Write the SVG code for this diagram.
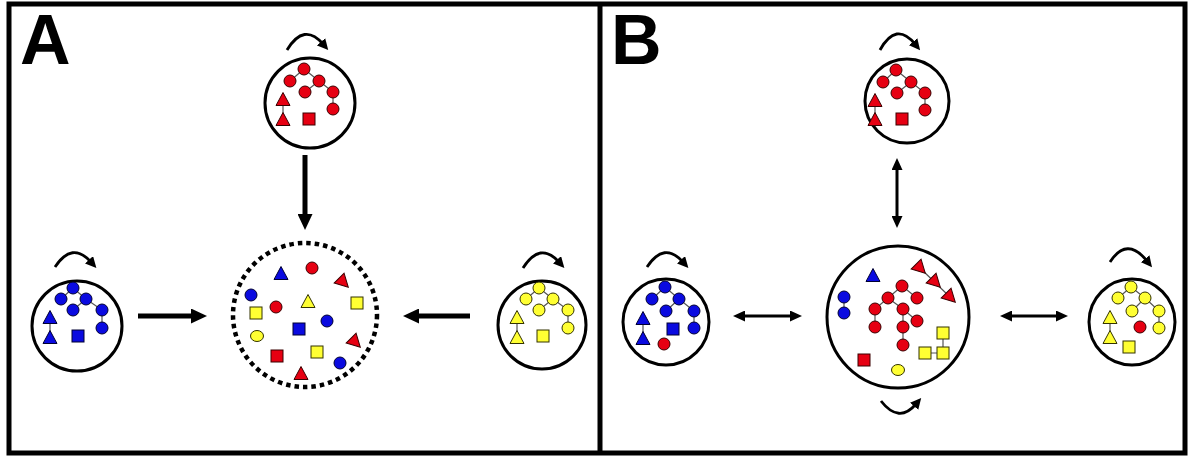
<svg xmlns="http://www.w3.org/2000/svg" xmlns:xlink="http://www.w3.org/1999/xlink" width="1188" height="457" viewBox="0 0 1188 457">
  <style>
    .frame { fill: none; stroke: #000; stroke-width: 5; }
    .label { font-family: "Liberation Sans", Arial, sans-serif; font-weight: bold; font-size: 70px; fill: #000; }
    .cell { fill: #fff; stroke: #000; stroke-width: 3; }
    .pool { fill: #fff; stroke: #000; stroke-width: 4.5; stroke-dasharray: 4.5 4; }
    .bond { stroke: #555; stroke-width: 1.2; fill: none; }
    .r { fill: #e60012; stroke: #3a0000; stroke-width: 1; }
    .b { fill: #0a0ae0; stroke: #000033; stroke-width: 1; }
    .y { fill: #ffff33; stroke: #333300; stroke-width: 1; }
    .turn { fill: none; stroke: #000; stroke-width: 2.8; }
    .flow { stroke: #000; stroke-width: 5; fill: none; }
    .link { stroke: #000; stroke-width: 3; fill: none; }
  </style>
  <defs>
    <path id="tri" d="M0,-7.5 L7,5.5 L-7,5.5 Z"/>
    <rect id="sq" x="-6" y="-6" width="12" height="12"/>
    <circle id="nd" r="6"/>
    <marker id="ah" viewBox="0 0 16 15" refX="6" refY="7.5" markerWidth="16" markerHeight="15" markerUnits="userSpaceOnUse" orient="auto">
      <path d="M0,0 L16,7.5 L0,15 Z" fill="#000"/>
    </marker>
    <marker id="dh" viewBox="0 0 12 11" refX="4" refY="5.5" markerWidth="12" markerHeight="11" markerUnits="userSpaceOnUse" orient="auto-start-reverse">
      <path d="M0,0 L12,5.5 L0,11 Z" fill="#000"/>
    </marker>
    <marker id="th" viewBox="0 0 11 11" refX="3" refY="5.5" markerWidth="11" markerHeight="11" markerUnits="userSpaceOnUse" orient="auto">
      <path d="M0,0 L11,5.5 L0,11 Z" fill="#000"/>
    </marker>
  </defs>

  <rect width="1188" height="457" fill="#fff"/>

  <!-- panel frames -->
  <g id="frames">
    <rect class="frame" x="9" y="4" width="1176" height="449"/>
    <line class="frame" x1="600" y1="4" x2="600" y2="453"/>
  </g>
  <text class="label" x="20" y="64">A</text>
  <text class="label" x="611" y="64">B</text>

  <!-- connectors -->
  <g id="connectors">
    <line class="flow" x1="305" y1="155" x2="305" y2="220" marker-end="url(#ah)"/>
    <line class="flow" x1="138" y1="316" x2="197" y2="316" marker-end="url(#ah)"/>
    <line class="flow" x1="470" y1="316" x2="413" y2="316" marker-end="url(#ah)"/>
    <line class="link" x1="897" y1="166" x2="897" y2="220" marker-start="url(#dh)" marker-end="url(#dh)"/>
    <line class="link" x1="741" y1="316" x2="794" y2="316" marker-start="url(#dh)" marker-end="url(#dh)"/>
    <line class="link" x1="1008" y1="316" x2="1060" y2="316" marker-start="url(#dh)" marker-end="url(#dh)"/>
  </g>

  <!-- A: red cell (top) -->
  <g id="a-red">
    <circle class="cell" cx="310" cy="103" r="45"/>
    <path class="turn" d="M287,50 Q304,22 323,44" marker-end="url(#th)"/>
    <path class="bond" d="M304,69 L290,81 M304,69 L319,81 L305,92 M319,81 L333,92 L333,109 M283,100 L283,120"/>
    <use href="#nd" class="r" x="304" y="69"/><use href="#nd" class="r" x="290" y="81"/>
    <use href="#nd" class="r" x="319" y="81"/><use href="#nd" class="r" x="305" y="92"/>
    <use href="#nd" class="r" x="333" y="92"/><use href="#nd" class="r" x="333" y="109"/>
    <use href="#tri" class="r" x="283" y="100"/><use href="#tri" class="r" x="283" y="120"/>
    <use href="#sq" class="r" x="309" y="119"/>
  </g>

  <!-- A: blue cell (left) -->
  <g id="a-blue">
    <circle class="cell" cx="77" cy="326" r="45"/>
    <path class="turn" d="M55,267 Q72,241 91,262" marker-end="url(#th)"/>
    <path class="bond" d="M73,288 L61,299 M73,288 L86,299 L73,310 M86,299 L102,310 L102,328 M50,318 L50,337"/>
    <use href="#nd" class="b" x="73" y="288"/><use href="#nd" class="b" x="61" y="299"/>
    <use href="#nd" class="b" x="86" y="299"/><use href="#nd" class="b" x="73" y="310"/>
    <use href="#nd" class="b" x="102" y="310"/><use href="#nd" class="b" x="102" y="328"/>
    <use href="#tri" class="b" x="50" y="318"/><use href="#tri" class="b" x="50" y="338"/>
    <use href="#sq" class="b" x="78" y="336"/>
  </g>

  <!-- A: yellow cell (right) -->
  <g id="a-yellow">
    <circle class="cell" cx="542" cy="325" r="44"/>
    <path class="turn" d="M523,268 Q540,241 559,262" marker-end="url(#th)"/>
    <path class="bond" d="M539,288 L526,299 M539,288 L553,299 L539,310 M553,299 L568,310 L568,328 M517,318 L517,337"/>
    <use href="#nd" class="y" x="539" y="288"/><use href="#nd" class="y" x="526" y="299"/>
    <use href="#nd" class="y" x="553" y="299"/><use href="#nd" class="y" x="539" y="310"/>
    <use href="#nd" class="y" x="568" y="310"/><use href="#nd" class="y" x="568" y="328"/>
    <use href="#tri" class="y" x="517" y="318"/><use href="#tri" class="y" x="517" y="338"/>
    <use href="#sq" class="y" x="543" y="336"/>
  </g>

  <!-- A: mixed pool (centre) -->
  <g id="a-pool">
    <circle class="pool" cx="305" cy="315" r="72"/>
    <use href="#tri" class="b" x="281" y="274"/>
    <use href="#nd" class="r" x="312" y="268"/>
    <use href="#tri" class="r" transform="translate(343,282) rotate(135)"/>
    <use href="#nd" class="b" x="251" y="295"/>
    <use href="#nd" class="r" x="276" y="307"/>
    <use href="#tri" class="y" x="308" y="302"/>
    <use href="#sq" class="y" x="357" y="303"/>
    <use href="#sq" class="y" x="256" y="313"/>
    <use href="#nd" class="b" x="327" y="321"/>
    <use href="#sq" class="b" x="299" y="329"/>
    <ellipse class="y" cx="257" cy="336" rx="6.5" ry="5.5"/>
    <use href="#tri" class="r" transform="translate(355,342) rotate(135)"/>
    <use href="#sq" class="r" x="277" y="356"/>
    <use href="#sq" class="y" x="317" y="352"/>
    <use href="#nd" class="b" x="340" y="363"/>
    <use href="#tri" class="r" x="301" y="374"/>
  </g>

  <!-- B: red cell (top) -->
  <g id="b-red">
    <circle class="cell" cx="907" cy="101" r="42"/>
    <path class="turn" d="M880,50 Q896,21 915,44" marker-end="url(#th)"/>
    <path class="bond" d="M896,70 L883,82 M896,70 L911,82 L897,93 M911,82 L925,93 L925,110 M875,101 L875,120"/>
    <use href="#nd" class="r" x="896" y="70"/><use href="#nd" class="r" x="883" y="82"/>
    <use href="#nd" class="r" x="911" y="82"/><use href="#nd" class="r" x="897" y="93"/>
    <use href="#nd" class="r" x="925" y="93"/><use href="#nd" class="r" x="925" y="110"/>
    <use href="#tri" class="r" x="875" y="101"/><use href="#tri" class="r" x="875" y="120"/>
    <use href="#sq" class="r" x="902" y="119"/>
  </g>

  <!-- B: blue cell (left) -->
  <g id="b-blue">
    <circle class="cell" cx="666" cy="322" r="43"/>
    <path class="turn" d="M647,267 Q664,241 683,262" marker-end="url(#th)"/>
    <path class="bond" d="M665,287 L652,299 M665,287 L679,299 L666,311 M679,299 L694,311 L694,328 M643,319 L643,338"/>
    <use href="#nd" class="b" x="665" y="287"/><use href="#nd" class="b" x="652" y="299"/>
    <use href="#nd" class="b" x="679" y="299"/><use href="#nd" class="b" x="666" y="311"/>
    <use href="#nd" class="b" x="694" y="311"/><use href="#nd" class="b" x="694" y="328"/>
    <use href="#tri" class="b" x="643" y="319"/><use href="#tri" class="b" x="643" y="339"/>
    <use href="#sq" class="b" x="673" y="329"/>
    <use href="#nd" class="r" x="664" y="344"/>
  </g>

  <!-- B: yellow cell (right) -->
  <g id="b-yellow">
    <circle class="cell" cx="1132" cy="322" r="43"/>
    <path class="turn" d="M1110,262 Q1127,236 1147,261" marker-end="url(#th)"/>
    <path class="bond" d="M1131,287 L1118,298 M1131,287 L1145,298 L1132,311 M1145,298 L1159,311 L1159,328 M1110,318 L1110,338"/>
    <use href="#nd" class="y" x="1131" y="287"/><use href="#nd" class="y" x="1118" y="298"/>
    <use href="#nd" class="y" x="1145" y="298"/><use href="#nd" class="y" x="1132" y="311"/>
    <use href="#nd" class="y" x="1159" y="311"/><use href="#nd" class="y" x="1159" y="328"/>
    <use href="#tri" class="y" x="1110" y="318"/><use href="#tri" class="y" x="1110" y="338"/>
    <use href="#nd" class="r" x="1140" y="327"/>
    <use href="#sq" class="y" x="1129" y="347"/>
  </g>

  <!-- B: shared cell (centre) -->
  <g id="b-shared">
    <circle class="cell" cx="898" cy="317" r="71"/>
    <path class="turn" d="M881,401 Q899,424 916,404" marker-end="url(#th)"/>
    <path class="bond" d="M844,297 L844,313 M902,286 L888,298 M902,286 L917,298 M888,298 L875,309 L875,327 M888,298 L903,309 L917,321 M903,309 L903,345 M920,268 L950,297 M943,333 L943,353 L925,353"/>
    <use href="#tri" class="b" x="873" y="276"/>
    <use href="#nd" class="b" x="844" y="297"/><use href="#nd" class="b" x="844" y="313"/>
    <use href="#nd" class="r" x="902" y="286"/><use href="#nd" class="r" x="888" y="298"/>
    <use href="#nd" class="r" x="917" y="298"/><use href="#nd" class="r" x="875" y="309"/>
    <use href="#nd" class="r" x="903" y="309"/><use href="#nd" class="r" x="917" y="321"/>
    <use href="#nd" class="r" x="875" y="327"/><use href="#nd" class="r" x="903" y="327"/>
    <use href="#nd" class="r" x="903" y="345"/>
    <use href="#tri" class="r" transform="translate(920,268) rotate(135)"/>
    <use href="#tri" class="r" transform="translate(935,282) rotate(135)"/>
    <use href="#tri" class="r" transform="translate(950,297) rotate(135)"/>
    <use href="#sq" class="y" x="943" y="333"/>
    <use href="#sq" class="y" x="943" y="353"/>
    <use href="#sq" class="y" x="925" y="353"/>
    <use href="#sq" class="r" x="864" y="360"/>
    <ellipse class="y" cx="898" cy="370" rx="6.5" ry="5.5"/>
  </g>
</svg>
